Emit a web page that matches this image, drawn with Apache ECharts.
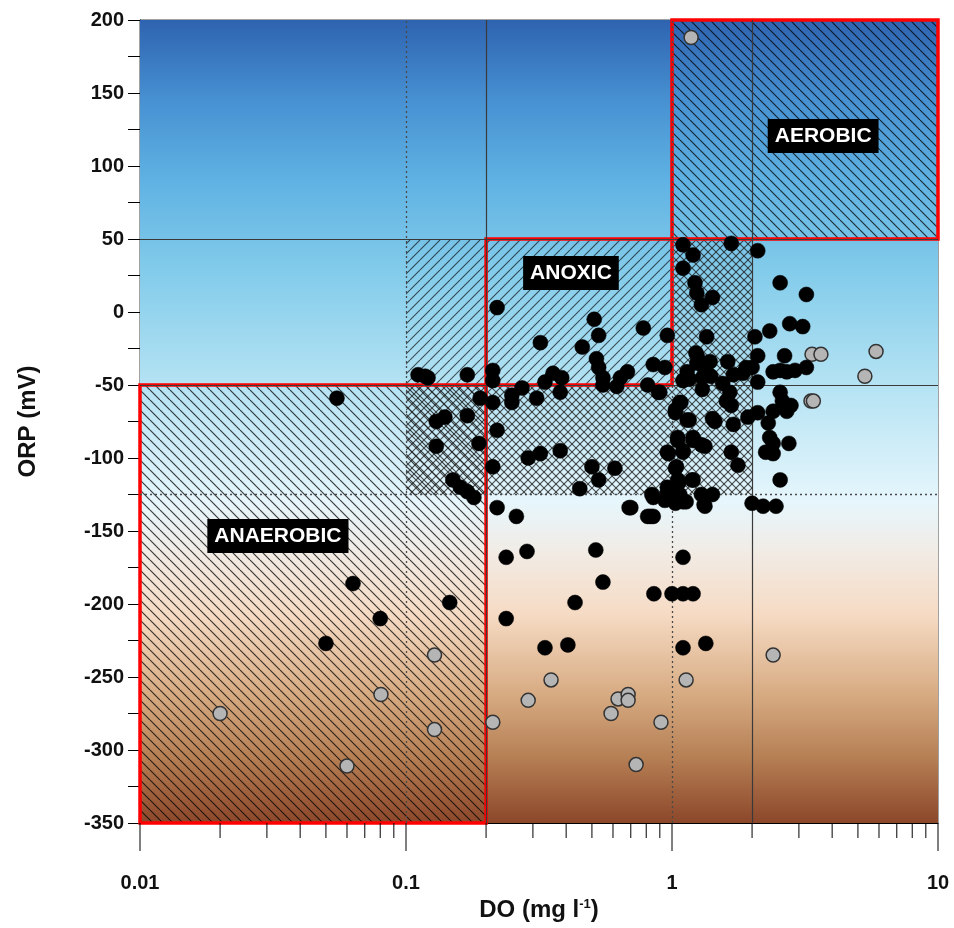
<!DOCTYPE html>
<html><head><meta charset="utf-8">
<script src="https://cdn.jsdelivr.net/npm/echarts@6/dist/echarts.min.js"></script>
<style>html,body{margin:0;padding:0;background:#fff}#c{width:954px;height:928px}</style>
</head><body><div id="c"></div>
<script>
// ---- data ----
const xTickLabels = ['0.01', '0.1', '1', '10'];
const xMajorTicks = [0.01, 0.1, 1, 10];
const xMinorTicks = [0.02,0.03,0.04,0.05,0.06,0.07,0.08,0.09,0.2,0.3,0.4,0.5,0.6,0.7,0.8,0.9,2,3,4,5,6,7,8,9];
const yTicks = [-350,-300,-250,-200,-150,-100,-50,0,50,100,150,200];

const grayPoints = [
  [1.18,188],[3.36,-29],[3.63,-29],[5.85,-27],[5.31,-44],[3.33,-61],[3.4,-61],
  [0.02,-275],[0.0805,-262],[0.06,-311],[0.128,-235],[0.128,-286],[0.212,-281],[0.288,-266],
  [0.351,-252],[0.627,-265],[0.684,-262],[0.684,-266],[0.59,-275],[0.909,-281],[0.733,-310],
  [1.13,-252],[2.40,-235]
];

const blackPoints = [
  [0.055,-59],[0.0632,-186],[0.05,-227],[0.08,-210],[0.146,-199],
  [0.111,-43],[0.121,-45],[0.118,-44],[0.17,-43],[0.19,-59],[0.17,-71],[0.14,-72],[0.13,-75],
  [0.13,-92],[0.188,-90],[0.15,-115],[0.16,-120],[0.17,-123],[0.18,-127],
  [0.212,-40],[0.212,-47],[0.22,3],[0.212,-62],[0.22,-81],[0.212,-106],[0.22,-134],[0.26,-140],
  [0.238,-168],[0.285,-164],[0.238,-210],[0.333,-230],[0.406,-228],[0.432,-199],[0.517,-163],[0.55,-185],
  [0.273,-52],[0.25,-57],[0.25,-62],[0.31,-59],[0.38,-55],[0.357,-42],[0.385,-45],[0.333,-48],
  [0.288,-100],[0.32,-97],[0.38,-95],[0.5,-106],[0.53,-115],[0.61,-107],[0.45,-121],
  [0.51,-5],[0.53,-16],[0.32,-21],[0.46,-24],[0.78,-11],[0.96,-16],[0.52,-32],[0.53,-38],[0.55,-45],
  [0.64,-45],[0.68,-41],[0.85,-36],[0.94,-38],[0.81,-50],[0.89,-55],[0.62,-51],[0.55,-50],
  [0.84,-125],[0.69,-134],[0.81,-140],[0.83,-140],[0.97,-124],[0.7,-134],[0.855,-193],[1.0,-193],
  [1.10,-193],[1.20,-193],[1.10,-168],[1.10,-230],[1.34,-227],
  [0.96,-96],[1.04,-106],[1.05,-86],[1.1,-95],[1.03,-67],[1.08,-62],[1.16,-74],[1.2,-86],[1.29,-91],
  [0.96,-124],[1.05,-115],[1.07,-125],[1.13,-130],[1.2,-115],[1.29,-125],[1.33,-133],[1.03,-131],[0.94,-129],
  [1.3,-53],[0.9,-55],
  [1.1,46],[1.2,39],[1.1,30],[1.22,20],[1.24,13],[1.42,10],[1.29,5],[1.67,47],[2.1,42],[2.55,20],[3.2,12],
  [1.35,-17],[1.23,-28],[1.25,-31],[1.39,-34],[1.62,-34],[2.05,-17],[2.33,-13],[2.77,-8],[3.1,-10],
  [2.1,-30],[2.65,-30],[1.9,-38],[1.85,-42],[2.0,-38],[1.7,-43],[2.1,-48],[2.4,-41],[2.55,-40],[2.7,-41],
  [2.9,-40],[3.2,-38],[1.16,-46],[1.3,-45],[1.4,-44],[1.55,-49],[1.1,-47],[1.24,-35],[1.14,-41],[1.33,-40],
  [1.65,-55],[1.6,-61],[1.67,-64],[2.55,-55],[2.6,-61],[2.8,-64],[2.7,-68],[2.4,-68],[1.07,-62],
  [1.03,-69],[1.14,-74],[1.45,-75],[1.42,-73],[1.7,-77],[1.93,-72],[2.1,-69],[2.3,-76],[2.33,-86],
  [2.4,-90],[2.75,-90],[2.25,-96],[2.4,-97],[1.05,-88],[1.1,-96],[1.2,-88],[1.33,-92],[1.67,-96],
  [1.77,-105],[0.97,-97],[1.03,-107],[1.06,-117],[0.96,-120],[1.19,-115],[2.55,-115],[1.42,-125],
  [0.85,-127],[1.0,-128],[1.1,-130],[1.32,-132],[2.0,-131],[2.2,-133],[2.46,-133],[0.85,-140]
];

// zones: [[xmin,ymin],[xmax,ymax]]
const aerobicZone = [[1,50],[10,200]];
const anoxicZone = [[0.2,-50],[1,50]];
const anaerobicZone = [[0.01,-350],[0.2,-50]];
const anoxicFringe = [[0.1,-50],[0.2,50]];
const crossZones = [[[0.1,-125],[2,-50]], [[1,-50],[2,50]]];
const zoneLabels = [
  {name:'AEROBIC', value:[3.7,120.5]},
  {name:'ANOXIC', value:[0.417,26.7]},
  {name:'ANAEROBIC', value:[0.033,-153.4]}
];
const solidX = [0.2, 2], solidY = [50, -50];
const dottedX = [0.1, 1], dottedY = [-125];

// ---- patterns ----
function hatch(kind, s, color, lw) {
  const c = document.createElement('canvas');
  c.width = s; c.height = s;
  const g = c.getContext('2d');
  g.strokeStyle = color; g.lineWidth = lw;
  const draw = (back) => {
    for (let k = -1; k <= 1; k++) {
      g.beginPath();
      if (back) { g.moveTo(k*s, 0); g.lineTo(k*s + s, s); }
      else { g.moveTo(k*s, s); g.lineTo(k*s + s, 0); }
      g.stroke();
    }
  };
  if (kind === 'back' || kind === 'cross') draw(true);
  if (kind === 'fwd' || kind === 'cross') draw(false);
  return {image: c, repeat: 'repeat'};
}
const backHatch = hatch('back', 10, 'rgba(0,0,0,0.75)', 1.2);
const fwdHatch = hatch('fwd', 10, 'rgba(0,0,0,0.65)', 1.1);
const crossHatch = hatch('cross', 8, 'rgba(30,30,30,0.8)', 1.1);

const bg = new echarts.graphic.LinearGradient(0,0,0,1,[
  {offset:0, color:'#2e63b0'},
  {offset:0.1, color:'#4791d2'},
  {offset:0.2, color:'#5fb2e3'},
  {offset:0.32, color:'#85cdeb'},
  {offset:0.45, color:'#b3e2f3'},
  {offset:0.6, color:'#e6f6fc'},
  {offset:0.66, color:'#f1ece6'},
  {offset:0.74, color:'#f6dbc4'},
  {offset:0.84, color:'#d7ab82'},
  {offset:0.92, color:'#b57e53'},
  {offset:1, color:'#8c472a'}
]);

const FONT = '"Liberation Sans",Arial,sans-serif';
const zone = (z, style) => [{coord: z[0], itemStyle: style}, {coord: z[1]}];
const redStyle = {color:'rgba(0,0,0,0)', borderColor:'#ff0000', borderWidth:3.5};

const lineData = [];
solidX.forEach(v => lineData.push({xAxis: v, lineStyle:{type:'solid', color:'#3a3a3a', width:1.2}}));
solidY.forEach(v => lineData.push({yAxis: v, lineStyle:{type:'solid', color:'#3a3a3a', width:1.2}}));
dottedX.forEach(v => lineData.push({xAxis: v, lineStyle:{type:[2,3], color:'#4a4a4a', width:1.3}}));
dottedY.forEach(v => lineData.push({yAxis: v, lineStyle:{type:[2,3], color:'#4a4a4a', width:1.3}}));

const tickData = xMajorTicks.map(v => [v, -350, 28]).concat(xMinorTicks.map(v => [v, -350, 15]));

const chart = echarts.init(document.getElementById('c'), null, {renderer:'canvas'});
chart.setOption({
  animation: false,
  grid: {left:140, right:16, top:20, bottom:105, show:true, borderColor:'#444', borderWidth:1,
    backgroundColor:'transparent', containLabel:false, outerBoundsMode:'none'},
  xAxis: {
    type:'log', logBase:10, min:0.01, max:10,
    name:'DO (mg l{sup|-1})', nameLocation:'middle', nameGap:74,
    nameTextStyle:{fontFamily:FONT, fontSize:24, fontWeight:'bold', color:'#111',
      rich:{sup:{fontFamily:FONT, fontSize:13, fontWeight:'bold', color:'#111', verticalAlign:'top', padding:[0,0,10,0]}}},
    axisLine:{show:true, onZero:false, lineStyle:{color:'#000', width:1}},
    axisTick:{show:false},
    minorTick:{show:false},
    splitLine:{show:false},
    axisLabel:{fontFamily:FONT, fontSize:20, fontWeight:'bold', color:'#111', margin:50,
      formatter: v => xTickLabels[Math.round(Math.log10(v)) + 2]}
  },
  yAxis: {
    type:'value', min:-350, max:200, interval:50,
    name:'ORP (mV)', nameLocation:'middle', nameGap:100, nameRotate:90,
    nameTextStyle:{fontFamily:FONT, fontSize:24, fontWeight:'bold', color:'#111'},
    axisLine:{show:true, onZero:false, lineStyle:{color:'#000', width:1}},
    axisTick:{show:true, length:12, lineStyle:{color:'#000'}},
    minorTick:{show:true, splitNumber:2, length:12, lineStyle:{color:'#000'}},
    splitLine:{show:false},
    axisLabel:{fontFamily:FONT, fontSize:20, fontWeight:'bold', color:'#111', margin:16,
      formatter: v => yTicks.includes(v) ? String(v) : ''}
  },
  series: [
    { type:'scatter', data:[], z:1, silent:true,
      markArea:{silent:true, data:[zone([[0.01,-350],[10,200]], {color:bg})]} },
    { type:'scatter', data:[], z:2, silent:true,
      markArea:{silent:true, data:[
        zone(aerobicZone, {color:backHatch}),
        zone(anaerobicZone, {color:backHatch}),
        zone(anoxicZone, {color:fwdHatch}),
        zone(anoxicFringe, {color:fwdHatch}),
        ...crossZones.map(z => zone(z, {color:crossHatch}))
      ]} },
    { type:'scatter', data:[], z:3, silent:true,
      markLine:{silent:true, symbol:['none','none'], label:{show:false}, data: lineData} },
    { type:'scatter', name:'gray', data: grayPoints, z:5, symbolSize:14,
      itemStyle:{color:'#b5b5b5', borderColor:'#333', borderWidth:1.5, opacity:1} },
    { type:'scatter', name:'black', data: blackPoints, z:6, symbolSize:15,
      itemStyle:{color:'#000', borderColor:'#000', borderWidth:0.5, opacity:1} },
    { type:'scatter', data:[], z:8, silent:true,
      markArea:{silent:true, data:[
        zone(aerobicZone, redStyle), zone(anoxicZone, redStyle), zone(anaerobicZone, redStyle)
      ]} },
    { type:'scatter', data: zoneLabels, z:10, symbolSize:1, silent:true,
      itemStyle:{color:'rgba(0,0,0,0)', opacity:1},
      label:{show:true, position:'inside', formatter: p => p.name, color:'#fff', backgroundColor:'#000', opacity:1,
        fontFamily:FONT, fontSize:21, fontWeight:'bold', padding:[7,7,6,7]} },
    { type:'custom', data: tickData, z:10, silent:true, clip:false,
      encode:{x:0, y:1},
      renderItem: (params, api) => {
        const p = api.coord([api.value(0), api.value(1)]);
        return {type:'line', shape:{x1:p[0], y1:p[1], x2:p[0], y2:p[1] + api.value(2)}, style:{stroke:'#000', lineWidth:1}};
      } }
  ]
});
</script>
</body></html>
